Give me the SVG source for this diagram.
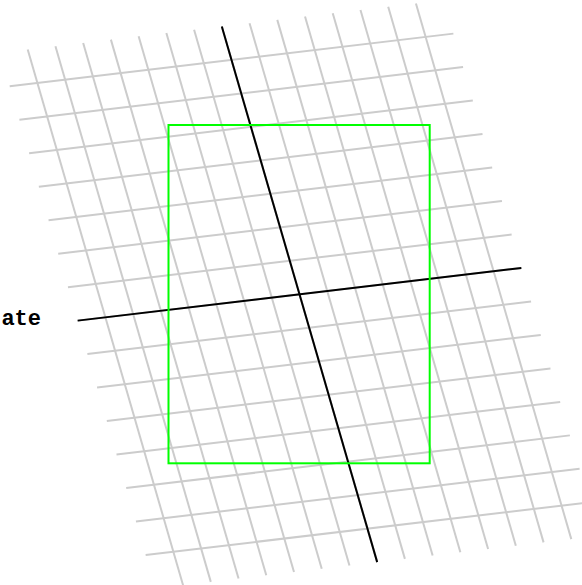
<svg xmlns="http://www.w3.org/2000/svg" width="582" height="585" viewBox="0 0 582 585">
<style>
.grid line{stroke:#cccccc;stroke-width:2;fill:none}
.axis{stroke:#000000;stroke-width:2;fill:none}
.box{stroke:#00ff00;stroke-width:2;fill:none}
.lbl{font-family:"Liberation Mono","Courier New",monospace;font-weight:bold;font-size:22px;fill:#000000}
</style>
<rect width="582" height="585" fill="#ffffff"/>
<g id="grid" class="grid">
<line x1="9.69" y1="86.26" x2="453.37" y2="33.62"/>
<line x1="19.40" y1="119.74" x2="463.08" y2="67.10"/>
<line x1="29.11" y1="153.22" x2="472.79" y2="100.58"/>
<line x1="38.82" y1="186.70" x2="482.50" y2="134.06"/>
<line x1="48.53" y1="220.18" x2="492.21" y2="167.54"/>
<line x1="58.24" y1="253.66" x2="501.92" y2="201.02"/>
<line x1="67.95" y1="287.14" x2="511.63" y2="234.50"/>
<line x1="77.66" y1="320.62" x2="521.34" y2="267.98"/>
<line x1="87.37" y1="354.10" x2="531.05" y2="301.46"/>
<line x1="97.08" y1="387.58" x2="540.76" y2="334.94"/>
<line x1="106.79" y1="421.06" x2="550.47" y2="368.42"/>
<line x1="116.50" y1="454.54" x2="560.18" y2="401.90"/>
<line x1="126.21" y1="488.02" x2="569.89" y2="435.38"/>
<line x1="135.92" y1="521.50" x2="579.60" y2="468.86"/>
<line x1="145.63" y1="554.98" x2="589.31" y2="502.34"/>
<line x1="27.71" y1="49.49" x2="183.07" y2="585.17"/>
<line x1="55.44" y1="46.20" x2="210.80" y2="581.88"/>
<line x1="83.17" y1="42.91" x2="238.53" y2="578.59"/>
<line x1="110.90" y1="39.62" x2="266.26" y2="575.30"/>
<line x1="138.63" y1="36.33" x2="293.99" y2="572.01"/>
<line x1="166.36" y1="33.04" x2="321.72" y2="568.72"/>
<line x1="194.09" y1="29.75" x2="349.45" y2="565.43"/>
<line x1="221.82" y1="26.46" x2="377.18" y2="562.14"/>
<line x1="249.55" y1="23.17" x2="404.91" y2="558.85"/>
<line x1="277.28" y1="19.88" x2="432.64" y2="555.56"/>
<line x1="305.01" y1="16.59" x2="460.37" y2="552.27"/>
<line x1="332.74" y1="13.30" x2="488.10" y2="548.98"/>
<line x1="360.47" y1="10.01" x2="515.83" y2="545.69"/>
<line x1="388.20" y1="6.72" x2="543.56" y2="542.40"/>
<line x1="415.93" y1="3.43" x2="571.29" y2="539.11"/>
</g>
<g id="axes">
<line class="axis" x1="77.66" y1="320.62" x2="521.34" y2="267.98"/>
<line class="axis" x1="221.82" y1="26.46" x2="377.18" y2="562.14"/>
</g>
<g id="bbox">
<rect class="box" x="168.5" y="125" width="261.2" height="338.3"/>
</g>
<g id="label">
<text class="lbl" x="41" y="325" text-anchor="end">ate</text>
</g>
</svg>
